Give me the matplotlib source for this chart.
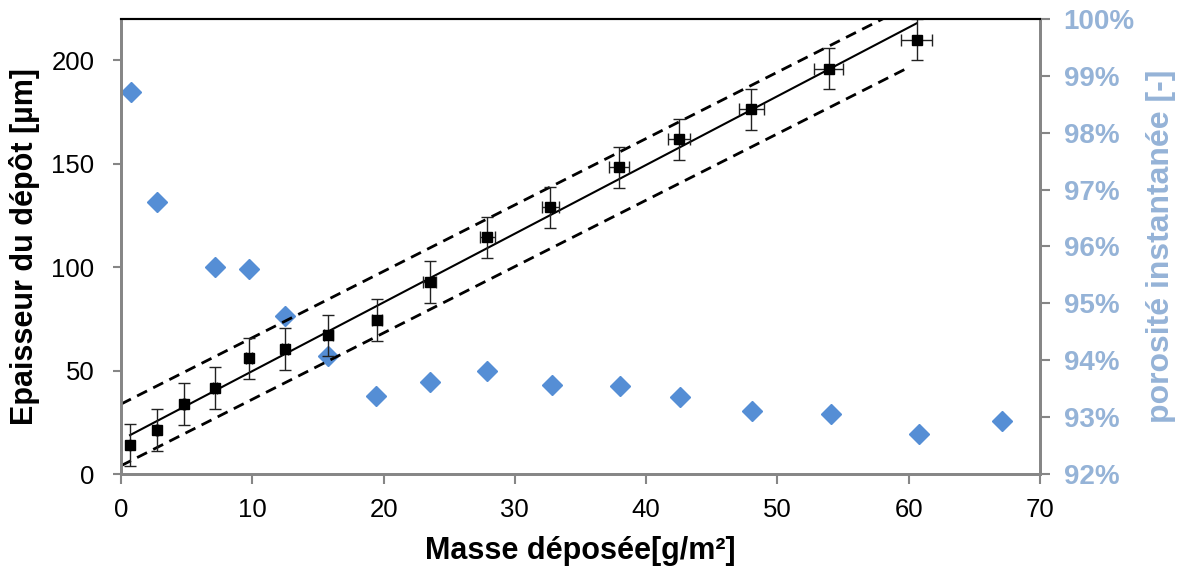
import matplotlib
matplotlib.use("Agg")
import matplotlib.pyplot as plt

plt.rcParams["font.family"] = ["Liberation Sans", "DejaVu Sans"]

# ---------------------------------------------------------------------------
# Data
# ---------------------------------------------------------------------------
# deposit thickness vs deposited mass
masse = [0.69, 2.74, 4.8, 7.16, 9.75, 12.5, 15.8, 19.5, 23.5, 27.9,
         32.7, 37.9, 42.5, 48.0, 53.9, 60.6]
epaisseur = [14.0, 21.3, 33.8, 41.5, 56.0, 60.4, 67.0, 74.4, 92.8, 114.5,
             129.0, 148.3, 161.8, 176.3, 196.0, 210.0]
err_epaisseur = [10] * 16
err_masse = [0.02, 0.05, 0.1, 0.14, 0.2, 0.25, 0.32, 0.39, 0.47, 0.56,
             0.65, 0.76, 0.85, 0.96, 1.08, 1.21]

# linear fit and +/- band
fit_x = [0.69, 60.6]
fit_y = [18.8, 217.9]
band_x = [0.0, 60.0]
band_haut = [33.8, 226.4]
band_bas = [4.0, 196.6]

# instantaneous porosity (right axis, %)
masse_por = [0.76, 2.74, 7.16, 9.75, 12.5, 15.8, 19.4, 23.5, 27.9, 32.8,
             38.0, 42.6, 48.1, 54.1, 60.8, 67.1]
porosite = [98.72, 96.78, 95.64, 95.60, 94.78, 94.07, 93.37, 93.62, 93.81,
            93.56, 93.55, 93.35, 93.11, 93.05, 92.70, 92.94]

GRAY = "#868686"
BLUE = "#558ED5"
LIGHT_BLUE = "#95B3D7"

fig = plt.figure(figsize=(11.92, 5.70), dpi=100)
ax = fig.add_axes([0.1015, 0.1684, 0.771, 0.7983])
ax2 = ax.twinx()

# porosity first so it sits under the thickness data
ax2.plot(masse_por, porosite, linestyle="none", marker="D", markersize=10,
         color=BLUE, zorder=2)
ax2.set_ylim(92, 100)
ax2.set_yticks(range(92, 101))
ax2.set_yticklabels([f"{v}%" for v in range(92, 101)])
ax2.set_ylabel("porosité instantanée [-]", color=LIGHT_BLUE, fontsize=23,
               fontweight="bold", labelpad=8)

ax.set_zorder(ax2.get_zorder() + 1)
ax.patch.set_visible(False)

ax.plot(fit_x, fit_y, color="black", linewidth=1.5)
ax.plot(band_x, band_haut, color="black", linewidth=2, linestyle=(0, (4, 2.5)))
ax.plot(band_x, band_bas, color="black", linewidth=2, linestyle=(0, (4, 2.5)))
ax.errorbar(masse, epaisseur, yerr=err_epaisseur, xerr=err_masse, fmt="s",
            color="black", markersize=7, ecolor="#222222", elinewidth=1,
            capsize=4, capthick=1)

ax.set_xlim(0, 70)
ax.set_ylim(0, 220)
ax.set_xticks(range(0, 71, 10))
ax.set_yticks(range(0, 201, 50))
ax.set_xlabel("Masse déposée[g/m²]", fontsize=22, fontweight="bold",
              labelpad=10)
ax.set_ylabel("Epaisseur du dépôt [µm]", fontsize=22, fontweight="bold",
              labelpad=8)

for a in (ax, ax2):
    for side in ("left", "right", "bottom"):
        a.spines[side].set_color(GRAY)
        a.spines[side].set_linewidth(2)
    a.spines["top"].set_color("black")
    a.spines["top"].set_linewidth(1.5)
ax.tick_params(axis="y", colors=GRAY, labelcolor="black", labelsize=18.5,
               length=6, width=1.5, pad=13)
ax.tick_params(axis="x", colors=GRAY, labelcolor="black", labelsize=18.5,
               length=7, width=1.5, pad=10)
ax2.tick_params(axis="y", colors=GRAY, labelcolor=LIGHT_BLUE, labelsize=20,
                length=7, width=1.5, pad=10)
for lbl in ax2.get_yticklabels():
    lbl.set_fontweight("bold")

fig.savefig("out.png", dpi=100)
